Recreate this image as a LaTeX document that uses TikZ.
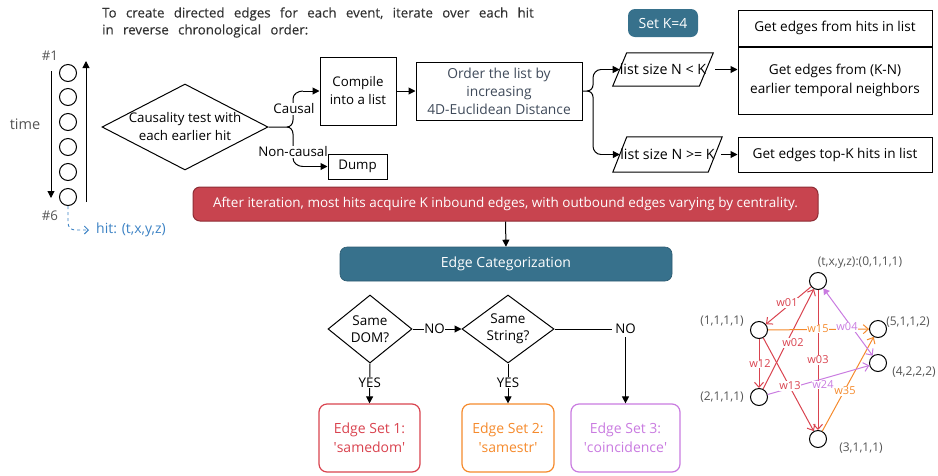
\documentclass[tikz,border=0pt]{standalone}
\usepackage{fontspec}
\setmainfont{Open Sans}
\newfontfamily\topfont[WordSpace={2.7},FakeBold=0.3]{Open Sans}
\usetikzlibrary{arrows.meta,shapes.geometric,calc}
\definecolor{cred}{HTML}{D9434F}
\definecolor{corange}{HTML}{F58A2C}
\definecolor{cviolet}{HTML}{C97BE0}
\definecolor{cteal}{HTML}{37718C}
\definecolor{cbanner}{HTML}{C8444F}
\definecolor{cbannerdark}{HTML}{8E2D35}
\definecolor{cslate}{HTML}{3F4A5A}
\definecolor{cblue}{HTML}{3C82C4}
\definecolor{cgray}{HTML}{555555}
\definecolor{ctop}{HTML}{333333}
\newcommand{\sq}{\textquotesingle}
\begin{document}
\begin{tikzpicture}[x=1pt,y=-1pt,
  font=\fontsize{13.3}{18}\selectfont,
  big/.style={font=\fontsize{13.6}{18.5}\selectfont},
  box/.style={draw, line width=1pt, align=center, inner sep=0pt},
  arr/.style={-{Triangle[length=7pt,width=7pt]}, line width=1pt},
  plain/.style={line width=1pt},
  hitc/.style={circle, draw, line width=1pt, minimum size=17pt, inner sep=0pt},
  gnode/.style={circle, draw, line width=1pt, minimum size=17pt, inner sep=0pt},
  glab/.style={text=cgray, font=\fontsize{12}{14}\selectfont, inner sep=0pt},
  wlab/.style={fill=white, inner sep=0.5pt, font=\fontsize{11}{13}\selectfont},
  garr/.style={-{Straight Barb[length=5pt,width=9pt]}, line width=1pt},
  setbox/.style={draw, line width=1.2pt, rounded corners=8pt, align=center, minimum height=68pt, inner sep=0pt, font=\fontsize{14}{19}\selectfont},
  dia/.style={diamond, draw, line width=1pt, inner sep=0pt},
  lbl/.style={fill=white, inner sep=0.5pt}
]
\useasboundingbox (0,0) rectangle (938,475);

% title text
\node[anchor=west, inner sep=0pt, text=ctop, font=\topfont\fontsize{13.3}{15}\selectfont] (top1) at (102,14) {To create directed edges for each event, iterate over each hit};
\node[anchor=west, inner sep=0pt, text=ctop, font=\topfont\fontsize{13.3}{15}\selectfont] (top2) at (102,31) {in reverse chronological order:};

% hits column
\foreach \i/\y in {1/73,2/97,3/122,4/147,5/172,6/197} {
  \node[hitc] (c\i) at (68,\y) {};
}
\node[text=cgray, inner sep=0pt] (n1lab) at (50,56) {\#1};
\node[text=cgray, inner sep=0pt] (n6lab) at (50,216) {\#6};
\node[text=cgray, inner sep=0pt, font=\fontsize{14.5}{17}\selectfont] (timelab) at (25,124) {time};
\coordinate (dtop) at (51,71);
\coordinate (dbot) at (51,198);
\coordinate (utop) at (86,61);
\coordinate (ubot) at (86,202);
\draw[arr] (dtop) -- (dbot);
\draw[arr] (ubot) -- (utop);
\node[anchor=west, text=cblue, inner sep=0pt, font=\fontsize{14}{16}\selectfont] (hitlab) at (96,230) {hit: (t,x,y,z)};
\coordinate (hitend) at (89,230);
\draw[cblue, dashed, line width=0.9pt, -{Straight Barb[length=4pt,width=8pt]}] (c6.south) -- (68,223) to[out=-90,in=180] (75,230) -- (hitend);

% causality diamond
\node[dia, minimum width=166pt, minimum height=86pt] (causal) at (185,127) {};
\node[align=center, inner sep=0pt] (causaltxt) at (causal.center) {Causality test with\\each earlier hit};

\node[box, minimum width=76pt, minimum height=68pt] (compile) at (358,91) {Compile\\into a list};
\node[box, minimum width=166pt, minimum height=58pt, text=cslate, font=\fontsize{13.8}{18}\selectfont] (order) at (499,91) {Order the list by\\increasing\\4D-Euclidean Distance};
\coordinate (cbr) at (287,127);
\draw[plain] (causal.east) -- (cbr) to[out=0,in=-90] (293,120) -- (293,99) to[out=90,in=180] (303,91);
\draw[arr] (303,91) -- (compile.west);
\draw[plain] (cbr) to[out=0,in=90] (293,134) -- (293,158) to[out=-90,in=180] (303,166.5);
\node[lbl] (causallab) at (294,109) {Causal};
\node[lbl] (noncausallab) at (293,152) {Non-causal};
\node[box, minimum width=59pt, minimum height=25pt] (dump) at (357.5,166.5) {Dump};
\draw[arr] (303,166.5) -- (dump.west);
\draw[arr] (compile.east) -- (order.west);

% parallelograms
\node[inner sep=0pt, minimum width=86pt, minimum height=33pt, font=\fontsize{14.2}{18}\selectfont] (p1) at (663,69.5) {list size N < K};
\draw[line width=1pt] ([xshift=-7pt]p1.south west) -- ([xshift=7pt]p1.north west) -- ([xshift=7pt]p1.north east) -- ([xshift=-7pt]p1.south east) -- cycle;
\node[inner sep=0pt, minimum width=95pt, minimum height=35pt, font=\fontsize{14.2}{18}\selectfont] (p2) at (667.5,154.5) {list size N >= K};
\draw[line width=1pt] ([xshift=-7pt]p2.south west) -- ([xshift=7pt]p2.north west) -- ([xshift=7pt]p2.north east) -- ([xshift=-7pt]p2.south east) -- cycle;

\coordinate (obr) at (587,91);
\draw[plain] (order.east) -- (obr) to[out=0,in=-90] (593,85) -- (593,78) to[out=90,in=180] (601,69.5);
\draw[arr] (601,69.5) -- (p1.west);
\draw[plain] (obr) to[out=0,in=90] (593,97) -- (593,146) to[out=-90,in=180] (601,154.5);
\draw[arr] (601,154.5) -- (p2.west);

% right boxes
\node[box, minimum width=194pt, minimum height=36pt, big] (g1) at (835,28) {Get edges from hits in list};
\node[box, minimum width=194pt, minimum height=67pt, anchor=north, big] (g2) at (g1.south) {Get edges from (K-N)\\earlier temporal neighbors};
\node[box, minimum width=194pt, minimum height=35pt, big] (g3) at (835,154.5) {Get edges top-K hits in list};
\draw[arr, shorten <=9pt] (p1.east) -- (p1.east -| g2.west);
\draw[arr, shorten <=6pt] (p2.east) -- (g3.west);

\node[fill=cteal, text=white, rounded corners=7pt, minimum width=70pt, minimum height=28pt, inner sep=0pt, font=\fontsize{14}{17}\selectfont] (setk) at (663,23) {Set K=4};

% banner and categorization
\node[fill=cbanner, draw=cbannerdark, line width=1pt, text=white, rounded corners=7pt, minimum width=625pt, minimum height=34pt, inner sep=0pt, font=\fontsize{13.5}{17}\selectfont] (banner) at (505.5,204) {After iteration, most hits acquire K inbound edges, with outbound edges varying by centrality.};
\node[fill=cteal, draw=cteal!80!black, line width=0.6pt, text=white, rounded corners=7pt, minimum width=332pt, minimum height=34pt, inner sep=0pt, font=\fontsize{14}{17}\selectfont] (ecat) at (506,264) {Edge Categorization};
\draw[arr] (banner.south) -- (ecat.north);

% decision diamonds
\node[dia, minimum width=84pt, minimum height=68pt] (d1) at (370,329) {};
\node[align=center, inner sep=0pt, font=\fontsize{13.5}{17}\selectfont] (d1txt) at (370,329) {Same\\DOM?};
\node[dia, minimum width=92pt, minimum height=68pt] (d2) at (508,329) {};
\node[align=center, inner sep=0pt, font=\fontsize{13.5}{17}\selectfont] (d2txt) at (508,329) {Same\\String?};

\node[setbox, draw=cred, text=cred, minimum width=101pt] (b1) at (369.5,438) {Edge Set 1:\\\sq samedom\sq};
\node[setbox, draw=corange, text=corange, minimum width=92pt] (b2) at (508,438) {Edge Set 2:\\\sq samestr\sq};
\node[setbox, draw=cviolet, text=cviolet, minimum width=109pt] (b3) at (625.5,438) {Edge Set 3:\\\sq coincidence\sq};

\draw[arr] (d1.east) -- node[lbl, pos=0.45] (no1) {NO} (d2.west);
\draw[arr] (d1.south) -- node[lbl, pos=0.48] (yes1) {YES} (b1.north);
\draw[arr] (d2.south) -- node[lbl, pos=0.48] (yes2) {YES} (b2.north);
\draw[arr] (d2.east) -- (b3.north |- d2.east) node[lbl, inner sep=3pt] (no2) {NO} -- (b3.north);

% graph
\node[gnode] (g0) at (818,281) {};
\node[gnode] (gn1) at (759,330) {};
\node[gnode] (gn2) at (759,397) {};
\node[gnode] (gn3) at (818,439) {};
\node[gnode] (gn5) at (878,329) {};
\node[gnode] (gn4) at (878,363) {};
\node[glab] (l0) at (860,263) {(t,x,y,z):(0,1,1,1)};
\node[glab] (l1) at (722,321) {(1,1,1,1)};
\node[glab] (l2) at (722,397) {(2,1,1,1)};
\node[glab] (l3) at (861,448) {(3,1,1,1)};
\node[glab] (l5) at (908,322) {(5,1,1,2)};
\node[glab] (l4) at (914,372) {(4,2,2,2)};

\draw[garr, cred] (g0) -- (gn1);
\draw[garr, cred] (gn2) -- (g0);
\draw[garr, cred] (g0) -- (gn3);
\draw[garr, cred] (gn1) -- (gn2);
\draw[garr, cred] (gn1) -- (gn3);
\draw[garr, corange] (gn1) -- (gn5);
\draw[garr, corange] (gn3) -- (gn5);
\draw[cviolet, line width=1pt, {Triangle[length=6pt,width=7pt]}-{Straight Barb[length=5pt,width=9pt]}] (g0) -- (gn4);
\draw[garr, cviolet] (gn2) -- (gn4);

\node[wlab, text=cred] (w01) at (787,303) {w01};
\node[wlab, text=cred] (w02) at (793,343) {w02};
\node[wlab, text=cred] (w03) at (818,360) {w03};
\node[wlab, text=cred] (w12) at (760,364) {w12};
\node[wlab, text=cred] (w13) at (790,386) {w13};
\node[wlab, text=corange] (w15) at (818,329) {w15};
\node[wlab, text=cviolet] (w04) at (847,327) {w04};
\node[wlab, text=cviolet] (w24) at (823,385) {w24};
\node[wlab, text=corange] (w35) at (845,391) {w35};
\end{tikzpicture}
\end{document}
